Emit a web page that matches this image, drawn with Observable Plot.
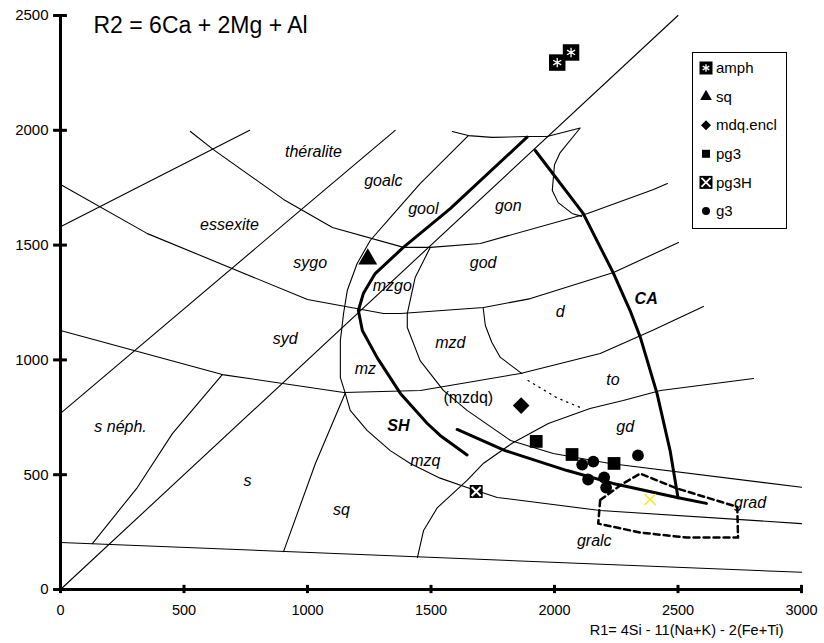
<!DOCTYPE html>
<html><head><meta charset="utf-8">
<script src="https://cdn.jsdelivr.net/npm/d3@7"></script>
<script src="https://cdn.jsdelivr.net/npm/@observablehq/plot@0.6"></script>
<style>
body{margin:0;background:#fff;}
#chart{width:824px;height:643px;}
</style></head><body><div id="chart"></div>
<script>
// axes
const xTicks = [0, 500, 1000, 1500, 2000, 2500, 3000];
const yTicks = [0, 500, 1000, 1500, 2000, 2500];
const titleText = "R2 = 6Ca + 2Mg + Al";
const xLabel = "R1= 4Si - 11(Na+K) - 2(Fe+Ti)";

// thin boundary lines [R1, R2]
const lineDiag = [[0,0],[2500,2500]];
const lineA = [[0,1580],[766,2000]];
const lineB = [[0,767],[971,1651],[1355,2000]];
const lineC = [[0,1764],[352,1550],[1000,1263],[1308,1202],[1377,1202],[1713,1228],[1903,1267],[2239,1381],[2502,1511]];
const lineD = [[526,1995],[619,1916],[903,1699],[1101,1577],[1389,1490],[1498,1490],[1700,1507],[2134,1638],[2401,1742],[2457,1768]];
const lineE = [[0,1128],[655,936],[1147,858],[1457,867],[1862,941],[2185,1028],[2400,1130],[2603,1233]];
const lineF = [[1445,139],[1470,257],[1526,357],[1646,475],[1713,550],[1830,638],[1975,723],[2144,788],[2278,823],[2429,867],[2806,919]];
const lineG = [[0,205],[3000,75]];
const lineH = [[129,200],[311,444],[453,679],[655,936]];
const lineI = [[903,165],[1032,549],[1153,856]];
const lineJ = [[1651,1977],[1456,1768],[1335,1620],[1254,1520],[1201,1420],[1161,1302],[1146,1202],[1133,1084],[1133,923],[1153,854],[1173,780],[1241,693],[1335,605],[1416,549],[1537,485],[1646,444],[1768,401],[2185,344],[3000,287]];
const lineK = [[1497,1490],[1436,1359],[1404,1202],[1404,1141],[1456,997],[1550,867],[1646,780],[1822,649],[1995,592],[2225,549],[3000,445]];
const lineL = [[1711,1228],[1720,1150],[1746,1077],[1780,1012],[1868,940]];
const lineTop = [[1586,1995],[1651,1977],[1748,1969],[1889,1973],[1970,1973],[2104,2010],[2023,1903],[2000,1850],[1991,1738],[2015,1685],[2071,1638],[2110,1625]];
const lineDotted = [[1893,910],[2010,835],[2110,790]];

// thick trend lines
const lineSH = [[1889,1970],[1578,1659],[1388,1490],[1274,1376],[1226,1289],[1206,1215],[1222,1128],[1282,1010],[1376,854],[1485,723],[1537,671],[1646,586]];
const lineCA = [[1922,1912],[2116,1638],[2237,1381],[2306,1215],[2347,1100],[2415,854],[2468,605],[2500,400]];
const lineLow = [[1606,697],[1800,605],[2051,518],[2237,462],[2496,401],[2615,375]];
const dashedField = [[2185,390],[2278,462],[2347,505],[2496,440],[2740,360],[2743,226],[2537,226],[2347,248],[2177,287],[2185,390]];

// samples
const amphX = [2011, 2067], amphY = [2295, 2339];
const sqX = [1244], sqY = [1439];
const mdqX = [1865], mdqY = [801];
const pg3X = [1926, 2071, 2241], pg3Y = [645, 588, 549];
const pg3HX = [1683], pg3HY = [427];
const g3X = [2338, 2157, 2112, 2136, 2201, 2209], g3Y = [584, 557, 544, 479, 488, 444];
const yelX = [2387], yelY = [392];

// region labels
const regionNames = ["théralite","goalc","gool","gon","essexite","sygo","god","mzgo","d","syd","mzd","mz","to","s néph.","gd","mzq","s","sq","grad","gralc"];
const regionX = [1024,1307,1469,1813,684,1011,1711,1343,2023,910,1578,1234,2237,243,2286,1477,757,1137,2792,2161];
const regionY = [1908,1781,1659,1673,1590,1424,1424,1324,1207,1093,1076,963,915,710,710,562,475,348,379,213];
const boldNames = ["CA","SH"], boldX = [2371,1368], boldY = [1267,714];
const plainNames = ["(mzdq)"], plainX = [1651], plainY = [836];

const legendNames = ["amph","sq","mdq.encl","pg3","pg3H","g3"];

const rows = (lines) => lines.flatMap((pts, i) => pts.map(([x, y]) => ({x, y, id: i})));
const pts = (X, Y) => X.map((x, i) => ({x, y: Y[i]}));

const thinRows = rows([lineDiag,lineA,lineB,lineC,lineD,lineE,lineF,lineG,lineH,lineI,lineJ,lineK,lineL,lineTop]);
const thickRows = rows([lineSH,lineCA,lineLow]);
const font = "'Liberation Sans', Arial, sans-serif";

const chart = Plot.plot({
  width: 824, height: 643,
  marginLeft: 60, marginRight: 23, marginTop: 15, marginBottom: 54,
  x: {domain: [0, 3000], axis: null},
  y: {domain: [0, 2500], axis: null},
  style: {fontFamily: font, fontSize: "16px", color: "black", background: "white"},
  marks: [
    Plot.line(thinRows, {x: "x", y: "y", z: "id", stroke: "black", strokeWidth: 1.1}),
    Plot.line(rows([lineDotted]), {x: "x", y: "y", stroke: "black", strokeWidth: 1.3, strokeDasharray: "1.3,5"}),
    Plot.line(thickRows, {x: "x", y: "y", z: "id", stroke: "black", strokeWidth: 3}),
    Plot.line(rows([dashedField]), {x: "x", y: "y", stroke: "black", strokeWidth: 2.5, strokeDasharray: "6,4"}),
    Plot.ruleX([0], {stroke: "black", strokeWidth: 3}),
    Plot.ruleY([0], {stroke: "black", strokeWidth: 3}),
    Plot.ruleX(xTicks, {x: d => d, y1: -18, y2: 18, stroke: "black", strokeWidth: 3}),
    Plot.ruleY(yTicks, {y: d => d, x1: -28, x2: 28, stroke: "black", strokeWidth: 3}),
    Plot.text(xTicks, {x: d => d, y: 0, dy: 21, text: d => String(d), fontSize: 14.5}),
    Plot.text(yTicks, {x: 0, y: d => d, dx: -12, textAnchor: "end", text: d => String(d), fontSize: 15}),
    Plot.text([titleText], {frameAnchor: "top-left", dx: 33, dy: 1, lineAnchor: "top", textAnchor: "start", fontSize: 23, text: d => d}),
    Plot.text([xLabel], {frameAnchor: "bottom-right", dx: -18, dy: 45, textAnchor: "end", fontSize: 14.5, text: d => d}),
    Plot.text(regionNames, {x: (d, i) => regionX[i], y: (d, i) => regionY[i], text: d => d, fontStyle: "italic", fontSize: 16}),
    Plot.text(boldNames, {x: (d, i) => boldX[i], y: (d, i) => boldY[i], text: d => d, fontStyle: "italic", fontWeight: "bold", fontSize: 16}),
    Plot.text(plainNames, {x: (d, i) => plainX[i], y: (d, i) => plainY[i], text: d => d, fontSize: 16}),
    // samples
    Plot.dot(pts(amphX, amphY), {x: "x", y: "y", symbol: "square", r: 9.3, fill: "black"}),
    Plot.dot(pts(amphX, amphY), {x: "x", y: "y", symbol: "asterisk", r: 4.4, stroke: "white", strokeWidth: 1.3}),
    Plot.dot(pts(sqX, sqY), {x: "x", y: "y", symbol: "triangle", r: 7, fill: "black"}),
    Plot.dot(pts(mdqX, mdqY), {x: "x", y: "y", symbol: "diamond2", r: 7.5, fill: "black"}),
    Plot.dot(pts(pg3X, pg3Y), {x: "x", y: "y", symbol: "square", r: 7.2, fill: "black"}),
    Plot.dot(pts(pg3HX, pg3HY), {x: "x", y: "y", symbol: "square", r: 7.3, fill: "black"}),
    Plot.dot(pts(pg3HX, pg3HY), {x: "x", y: "y", symbol: "times", r: 4.2, stroke: "white", strokeWidth: 2}),
    Plot.dot(pts(g3X, g3Y), {x: "x", y: "y", symbol: "circle", r: 5.9, fill: "black"}),
    Plot.dot(pts(yelX, yelY), {x: "x", y: "y", symbol: "times", r: 5.1, stroke: "#f2ec1c", strokeWidth: 1.5})
  ]
});

// legend box drawn into the chart svg
const svg = d3.select(chart);
const lg = svg.append("g").attr("transform", "translate(692,52)").attr("text-anchor", "start");
lg.append("rect").attr("x", 0.5).attr("y", 0.5).attr("width", 94).attr("height", 176)
  .attr("fill", "white").attr("stroke", "black").attr("stroke-width", 1);
const legendSym = [
  [{t: d3.symbolSquare, s: 169, fill: "black"}, {t: d3.symbolAsterisk, s: 40, stroke: "white", sw: 1.3}],
  [{t: d3.symbolTriangle, s: 60, fill: "black"}],
  [{t: d3.symbolDiamond2, s: 64, fill: "black"}],
  [{t: d3.symbolSquare, s: 64, fill: "black"}],
  [{t: d3.symbolSquare, s: 169, fill: "black"}, {t: d3.symbolTimes, s: 55, stroke: "white", sw: 1.8}],
  [{t: d3.symbolCircle, s: 50, fill: "black"}]
];
legendNames.forEach((name, i) => {
  const cy = 16 + i * 28.6;
  legendSym[i].forEach(o => {
    lg.append("path").attr("d", d3.symbol(o.t, o.s)())
      .attr("transform", `translate(14,${cy})`)
      .attr("fill", o.fill || "none").attr("stroke", o.stroke || "none")
      .attr("stroke-width", o.sw || 0);
  });
  lg.append("text").attr("x", 24).attr("y", cy).attr("dy", "0.35em")
    .attr("text-anchor", "start")
    .attr("font-size", 15).attr("font-family", font).attr("fill", "black").text(name);
});

document.getElementById("chart").appendChild(chart);
</script></body></html>
